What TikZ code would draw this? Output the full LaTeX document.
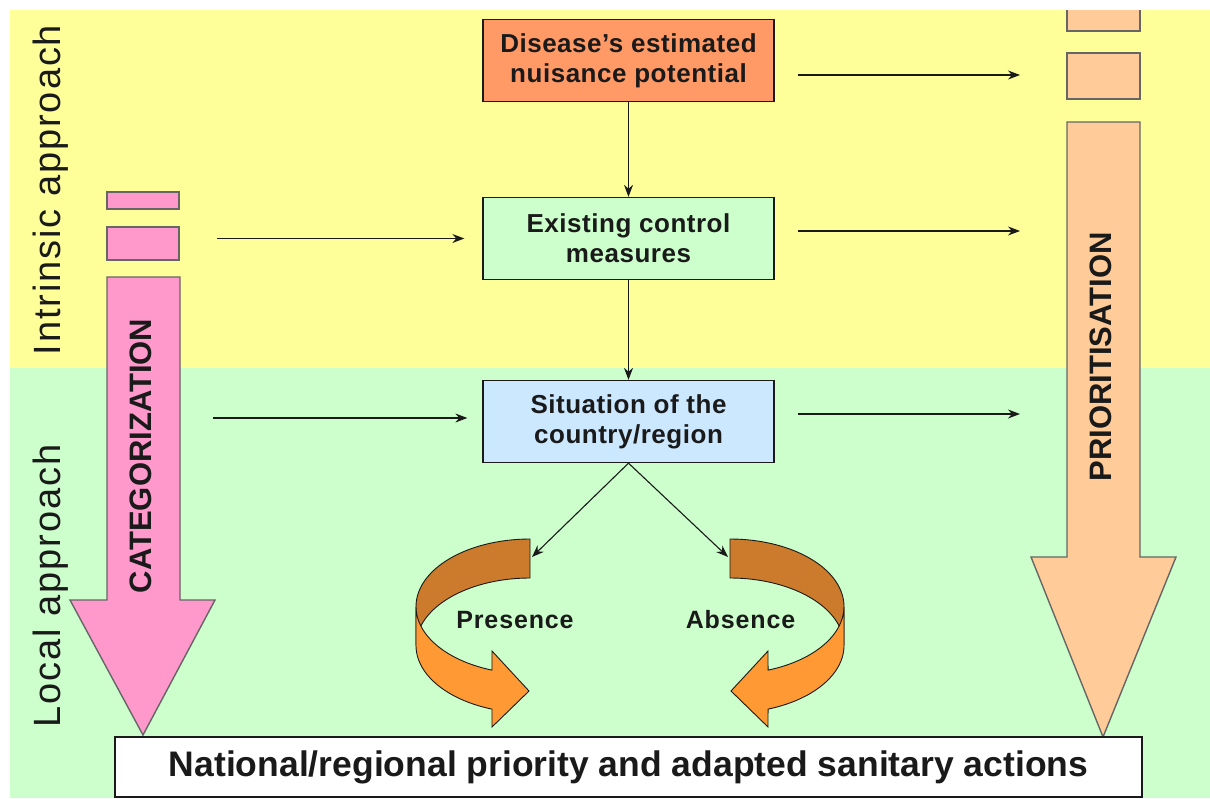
\documentclass[tikz,border=0pt]{standalone}
\usepackage{fontspec}
\setmainfont{Liberation Sans}
\newfontfamily\sidefont[LetterSpace=5]{Liberation Sans}
\newfontfamily\boxfont[LetterSpace=2]{Liberation Sans}
\newfontfamily\casefont[LetterSpace=3.5]{Liberation Sans}
\usetikzlibrary{arrows.meta}
\definecolor{bgyellow}{HTML}{FFFF99}
\definecolor{bggreen}{HTML}{CCFFCC}
\definecolor{boxorange}{HTML}{FF9966}
\definecolor{boxgreen}{HTML}{CCFFCC}
\definecolor{boxblue}{HTML}{CCE8FF}
\definecolor{pinkfill}{HTML}{FF99CC}
\definecolor{peachfill}{HTML}{FFCC99}
\definecolor{backbrown}{HTML}{CC7A2B}
\definecolor{frontorange}{HTML}{FF9933}
\definecolor{edgegrey}{HTML}{666666}
\definecolor{ink}{HTML}{1A1A1A}
\begin{document}
\begin{tikzpicture}[x=1pt,y=-1pt,
  flowbox/.style={draw=ink, line width=1.3pt, minimum width=291pt, minimum height=82pt,
    align=center, text=ink, font=\boxfont\bfseries\fontsize{26}{30}\selectfont},
  arr/.style={draw=ink, line width=1.1pt, -{Stealth[length=12pt,width=9pt]}},
  bigarrow/.style={draw=edgegrey, line width=1.4pt},
  ribbon/.style={draw=ink, line width=0.9pt},
  sidelabel/.style={rotate=90, text=ink, font=\sidefont\fontsize{38}{38}\selectfont},
  biglabel/.style={rotate=90, text=ink, font=\bfseries\fontsize{31}{31}\selectfont},
  caselabel/.style={text=ink, font=\casefont\bfseries\fontsize{25}{25}\selectfont}]
\useasboundingbox (0,0) rectangle (1210,798);
\fill[white] (0,0) rectangle (1210,798);
\fill[bgyellow] (10,10) rectangle (1210,368);
\fill[bggreen] (10,368) rectangle (1210,798);

% side labels
\node[sidelabel] (intr) at (51,190) {Intrinsic approach};
\node[sidelabel] (local) at (51,586) {Local approach};

% pink categorization arrow
\draw[bigarrow, fill=pinkfill] (107,192) rectangle (179,209);
\draw[bigarrow, fill=pinkfill] (107,227) rectangle (179,260);
\draw[bigarrow, fill=pinkfill] (107,277) -- (180,277) -- (180,600) -- (215,600) -- (143,735) -- (70,600) -- (107,600) -- cycle;
\node[biglabel] (cat) at (141,456) {CATEGORIZATION};

% peach prioritisation arrow
\fill[peachfill] (1067,10) rectangle (1140,31);
\draw[bigarrow] (1067,10) -- (1067,31) -- (1140,31) -- (1140,10);
\draw[bigarrow, fill=peachfill] (1067,53) rectangle (1140,99);
\draw[bigarrow, fill=peachfill] (1067,122) -- (1140,122) -- (1140,557) -- (1176,557) -- (1103,737) -- (1031,557) -- (1067,557) -- cycle;
\node[biglabel] (prio) at (1101,357) {PRIORITISATION};

% boxes
\node[flowbox, fill=boxorange] (b1) at (628.5,60.5) {Disease’s estimated\\nuisance potential};
\node[flowbox, fill=boxgreen] (b2) at (628.5,238.5) {Existing control\\measures};
\node[flowbox, fill=boxblue] (b3) at (628.5,421.5) {Situation of the\\country/region};
\node[draw=ink, line width=2.5pt, fill=white, minimum width=1027pt, minimum height=60pt,
  text=ink, font=\bfseries\fontsize{35.5}{35.5}\selectfont] (final) at (628.5,767) {National/regional priority and adapted sanitary actions};

% curved arrow: presence
\draw[ribbon, fill=backbrown] plot[domain=90:180,samples=40] ({530+114*cos(\x)},{606.5-67.5*sin(\x)})
  -- plot[domain=180:90,samples=40] ({530+114*cos(\x)},{645.5-67.5*sin(\x)}) -- cycle;
\draw[ribbon, fill=frontorange] plot[domain=180:250.5,samples=40] ({530+114*cos(\x)},{606.5-67.5*sin(\x)})
  -- (492,651) -- (529,691) -- (492,727)
  -- plot[domain=250.5:180,samples=40] ({530+114*cos(\x)},{645.5-67.5*sin(\x)}) -- cycle;
% curved arrow: absence
\draw[ribbon, fill=backbrown] plot[domain=90:180,samples=40] ({730-114*cos(\x)},{606.5-67.5*sin(\x)})
  -- plot[domain=180:90,samples=40] ({730-114*cos(\x)},{645.5-67.5*sin(\x)}) -- cycle;
\draw[ribbon, fill=frontorange] plot[domain=180:250.5,samples=40] ({730-114*cos(\x)},{606.5-67.5*sin(\x)})
  -- (768,651) -- (731,691) -- (768,727)
  -- plot[domain=250.5:180,samples=40] ({730-114*cos(\x)},{645.5-67.5*sin(\x)}) -- cycle;
\node[caselabel] (pres) at (515,620) {Presence};
\node[caselabel] (abs) at (740.5,620) {Absence};

% coordinates for free ends
\coordinate (l1) at (217,238.5);
\coordinate (l2) at (213,418);
\coordinate (r1) at (1020,75);
\coordinate (r2) at (1020,231);
\coordinate (r3) at (1020,414);
\coordinate (pt) at (532,557);
\coordinate (at) at (728,557);

% connectors
\draw[arr] (b1) -- (b2);
\draw[arr] (b2) -- (b3);
\draw[arr] (b3.south) -- (pt);
\draw[arr] (b3.south) -- (at);
\draw[arr, shorten >=18pt] (l1) -- (b2.west);
\draw[arr, shorten >=15pt] (l2) -- ([yshift=3.5pt]b3.west);
\draw[arr, shorten <=23pt] ([yshift=-14.5pt]b1.east) -- (r1);
\draw[arr, shorten <=23pt] ([yshift=7.5pt]b2.east) -- (r2);
\draw[arr, shorten <=23pt] ([yshift=7.5pt]b3.east) -- (r3);
\end{tikzpicture}
\end{document}
